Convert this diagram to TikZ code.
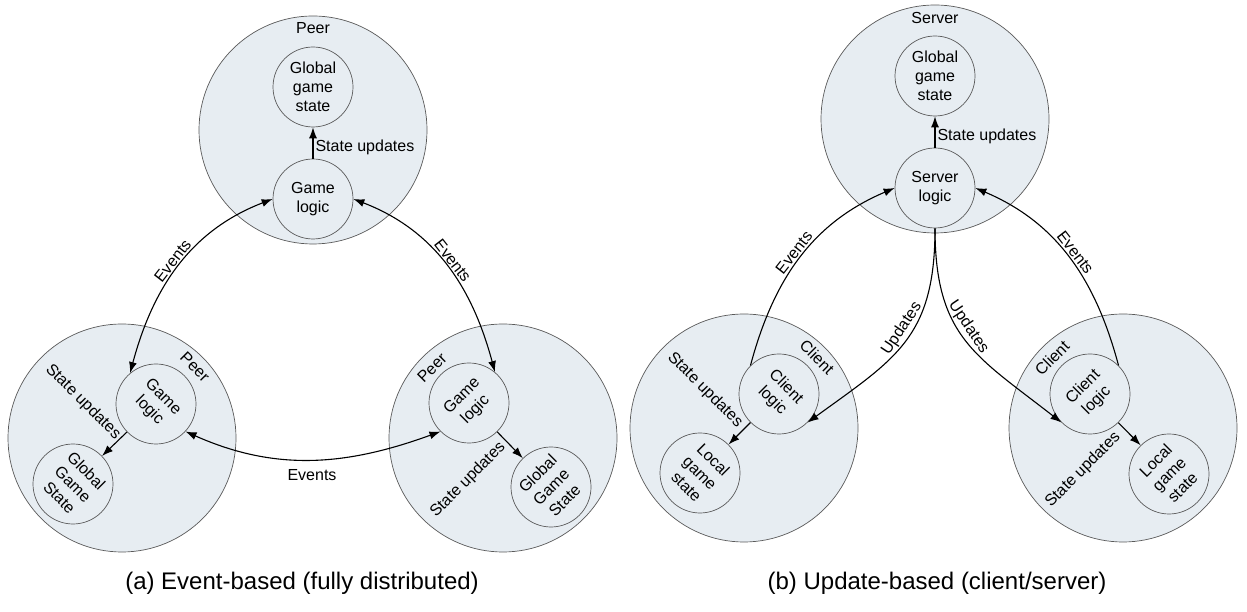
\documentclass[tikz,border=0pt]{standalone}
\usepackage{fontspec}
\setmainfont{Liberation Sans}
\usetikzlibrary{arrows.meta}
\definecolor{bulle}{RGB}{231,237,242}
\tikzset{
  zone/.style={circle,draw=black!65,fill=bulle,line width=0.7pt,minimum size=228pt,inner sep=0pt},
  bloc/.style={circle,draw=black!65,fill=bulle,line width=0.7pt,minimum size=80pt,inner sep=0pt,align=center,font=\fontsize{16}{19}\selectfont},
  txt/.style={font=\fontsize{16}{19}\selectfont,inner sep=2pt},
  fl/.style={-{Latex[length=11pt,width=8pt]},line width=1.1pt},
  dfl/.style={{Latex[length=11pt,width=8pt]}-{Latex[length=11pt,width=8pt]},line width=1.1pt},
}
\begin{document}
\begin{tikzpicture}[x=1pt,y=1pt]% 1 unite = 1 pixel du modele
	\useasboundingbox (0,0) rectangle (1247,612);
	% (a) les trois pairs
	\node[zone] (tpeer) at (313,482) {};
	\node[zone] (blpeer) at (122,174) {};
	\node[zone] (brpeer) at (503,174) {};
	\node[txt] (tpeerlab) at (313,584) {Peer};
	\node[bloc] (tggs) at (313,525) {Global\\game\\state};
	\node[bloc] (tgl) at (313,413) {Game\\logic};
	\node[bloc,rotate=-45] (blgl) at (156,208) {Game\\logic};
	\node[bloc,rotate=-45] (blggs) at (73,128) {Global\\Game\\State};
	\node[txt,rotate=-45] (blpeerlab) at (195,245) {Peer};
	\node[txt,rotate=-45] (blsu) at (83,210) {State updates};
	\node[bloc,rotate=45] (brgl) at (469,209) {Game\\logic};
	\node[bloc,rotate=45] (brggs) at (551,125) {Global\\Game\\State};
	\node[txt,rotate=45] (brpeerlab) at (432,244) {Peer};
	\node[txt,rotate=45] (brsu) at (468,132) {State updates};
	
	\draw[fl] (tgl) -- node[txt,right,pos=0.35] (tsu) {State updates} (tggs);
	\draw[fl] (blgl) -- (blggs);
	\draw[fl] (brgl) -- (brggs);
	\draw[dfl] (tgl.west) to[out=201,in=75] node[txt,sloped,above,pos=0.5] (ev1) {Events} (blgl.175);
	\draw[dfl] (tgl.east) to[out=-21,in=105] node[txt,sloped,above,pos=0.5] (ev2) {Events} (brgl.5);
	\draw[dfl] (blgl.2) to[out=-24,in=200] node[txt,below=8pt] (ev3) {Events} (brgl.180);
	\node[font=\fontsize{24}{28}\selectfont] (capa) at (302,29) {(a) Event-based (fully distributed)};
	
	% (b) serveur et clients
	\node[zone] (srv) at (935,493) {};
	\node[zone] (lcli) at (744,184) {};
	\node[zone] (rcli) at (1123,184) {};
	\node[txt] (srvlab) at (935,594) {Server};
	\node[bloc] (sggs) at (935,536) {Global\\game\\state};
	\node[bloc] (slog) at (935,424) {Server\\logic};
	\node[bloc,rotate=-45] (lccl) at (779,218) {Client\\logic};
	\node[bloc,rotate=-45] (lcgs) at (700,139) {Local\\game\\state};
	\node[txt,rotate=-45] (lclab) at (817,255) {Client};
	\node[txt,rotate=-45] (lcsu) at (705,222) {State updates};
	\node[bloc,rotate=45] (rccl) at (1090,218) {Client\\logic};
	\node[bloc,rotate=45] (rcgs) at (1169,138) {Local\\game\\state};
	\node[txt,rotate=45] (rclab) at (1052,254) {Client};
	\node[txt,rotate=45] (rcsu) at (1083,142) {State updates};
	
	\draw[fl] (slog) -- node[txt,right,pos=0.35] (ssu) {State updates} (sggs);
	\draw[fl] (lccl) -- (lcgs);
	\draw[fl] (rccl) -- (rcgs);
	\draw[fl] (lccl.180) to[out=75,in=203] node[txt,sloped,above,pos=0.5] (ev4) {Events} (slog.west);
	\draw[fl] (rccl.0) to[out=105,in=-23] node[txt,sloped,above,pos=0.5] (ev5) {Events} (slog.east);
	\draw[fl] (slog.south) to[out=-90,in=36,looseness=1.2] node[txt,sloped,above,pos=0.45] (up1) {Updates} (lccl.0);
	\draw[fl] (slog.south) to[out=-90,in=142,looseness=1.2] node[txt,sloped,above,pos=0.45] (up2) {Updates} (rccl.180);
	\node[font=\fontsize{24}{28}\selectfont] (capb) at (937,29) {(b) Update-based (client/server)};
\end{tikzpicture}
\end{document}
